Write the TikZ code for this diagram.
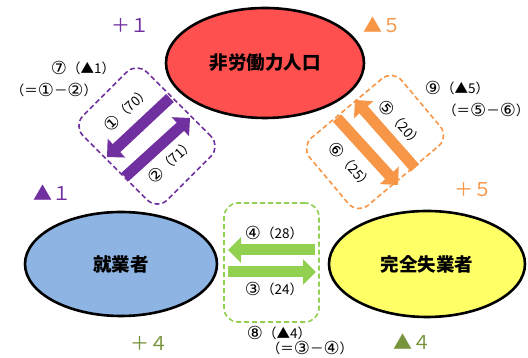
\documentclass[tikz,border=0pt]{standalone}
\usepackage{fontspec}
\setmainfont{Noto Sans CJK JP}
\newfontfamily\djfont{DejaVu Sans}
\newcommand\cdg[1]{{\djfont\fontsize{18pt}{15pt}\selectfont\raisebox{-0.08em}{#1}}}
\usetikzlibrary{shapes.geometric,arrows.meta}
\definecolor{cpur}{HTML}{7030A0}
\definecolor{cora}{HTML}{F79646}
\definecolor{cgrn}{HTML}{92D050}
\definecolor{coli}{HTML}{77933C}
\definecolor{cred}{HTML}{FF5050}
\definecolor{cblu}{HTML}{8DB4E2}
\definecolor{cyel}{HTML}{FFFF66}
\begin{document}
\begin{tikzpicture}[x=1pt,y=1pt,
  ell/.style={ellipse,draw=black,line width=2.6pt,inner sep=0pt,font=\fontsize{18.5pt}{20pt}\selectfont\bfseries},
  dbox/.style={rectangle,line width=1.6pt,dash pattern=on 5pt off 3pt,rounded corners=14pt,inner sep=0pt},
  fat/.style={line width=11pt,-{Triangle[length=13pt,width=25pt]}},
  lab/.style={font=\fontsize{13.5pt}{15pt}\selectfont,inner sep=0pt},
  big/.style={font=\fontsize{19pt}{21pt}\selectfont,inner sep=0pt}]
\useasboundingbox (0,0) rectangle (528,358);
% ellipses
\node[ell,fill=cred,minimum width=198pt,minimum height=110pt] (nlf) at (265,295) {非労働力人口};
\node[ell,fill=cblu,minimum width=192pt,minimum height=104pt] (emp) at (121,94) {就業者};
\node[ell,fill=cyel,minimum width=196pt,minimum height=106pt] (une) at (427,94) {完全失業者};
% dashed boxes
\node[dbox,draw=cpur,minimum width=119pt,minimum height=90pt,rotate=-45] (pbox) at (147,222) {};
\node[dbox,draw=cora,minimum width=120pt,minimum height=88pt,rotate=40] (obox) at (375,216) {};
\node[dbox,draw=cgrn,minimum width=95pt,minimum height=119pt] (gbox) at (271.5,95.5) {};
% arrow end points
\coordinate (p1s) at (170,260); \coordinate (p1e) at (107,201);
\coordinate (p2s) at (125,181); \coordinate (p2e) at (190,240);
\coordinate (o5s) at (415,190); \coordinate (o5e) at (355,258);
\coordinate (o6s) at (337,240); \coordinate (o6e) at (398,173);
\coordinate (g4s) at (315,108); \coordinate (g4e) at (228,108);
\coordinate (g3s) at (228,86);  \coordinate (g3e) at (316,86);
\draw[fat,cpur] (p1s) -- (p1e);
\draw[fat,cpur] (p2s) -- (p2e);
\draw[fat,cora] (o5s) -- (o5e);
\draw[fat,cora] (o6s) -- (o6e);
\draw[fat,cgrn] (g4s) -- (g4e);
\draw[fat,cgrn] (g3s) -- (g3e);
% flow labels
\node[lab,rotate=43] (l1) at (127,249) {\cdg{①}（70）};
\node[lab,rotate=43] (l2) at (171,197) {\cdg{②}（71）};
\node[lab,rotate=-48] (l5) at (401,234) {\cdg{⑤}（20）};
\node[lab,rotate=-48] (l6) at (351,192) {\cdg{⑥}（25）};
\node[lab] (l4) at (274,125) {\cdg{④}（28）};
\node[lab] (l3) at (274,69) {\cdg{③}（24）};
% net labels
\node[lab] (l7) at (83,290) {\cdg{⑦}（▲1）};
\node[lab] (l7b) at (54,268) {（＝\cdg{①}－\cdg{②}）};
\node[lab] (l9) at (457,270) {\cdg{⑨}（▲5）};
\node[lab,anchor=west] (l9b) at (443,248) {（＝\cdg{⑤}－\cdg{⑥}）};
\node[lab] (l8) at (279,25) {\cdg{⑧}（▲4）};
\node[lab] (l8b) at (310,10) {（＝\cdg{③}－\cdg{④}）};
% change labels
\node[big,text=cpur] (c1) at (130,333) {＋１};
\node[big,text=cora] (c2) at (382,333) {▲５};
\node[big,text=cpur] (c3) at (52,165) {▲１};
\node[big,text=cora] (c4) at (473,168) {＋５};
\node[big,text=coli] (c5) at (149,15) {＋４};
\node[big,text=coli] (c6) at (412,16) {▲４};
\end{tikzpicture}
\end{document}
